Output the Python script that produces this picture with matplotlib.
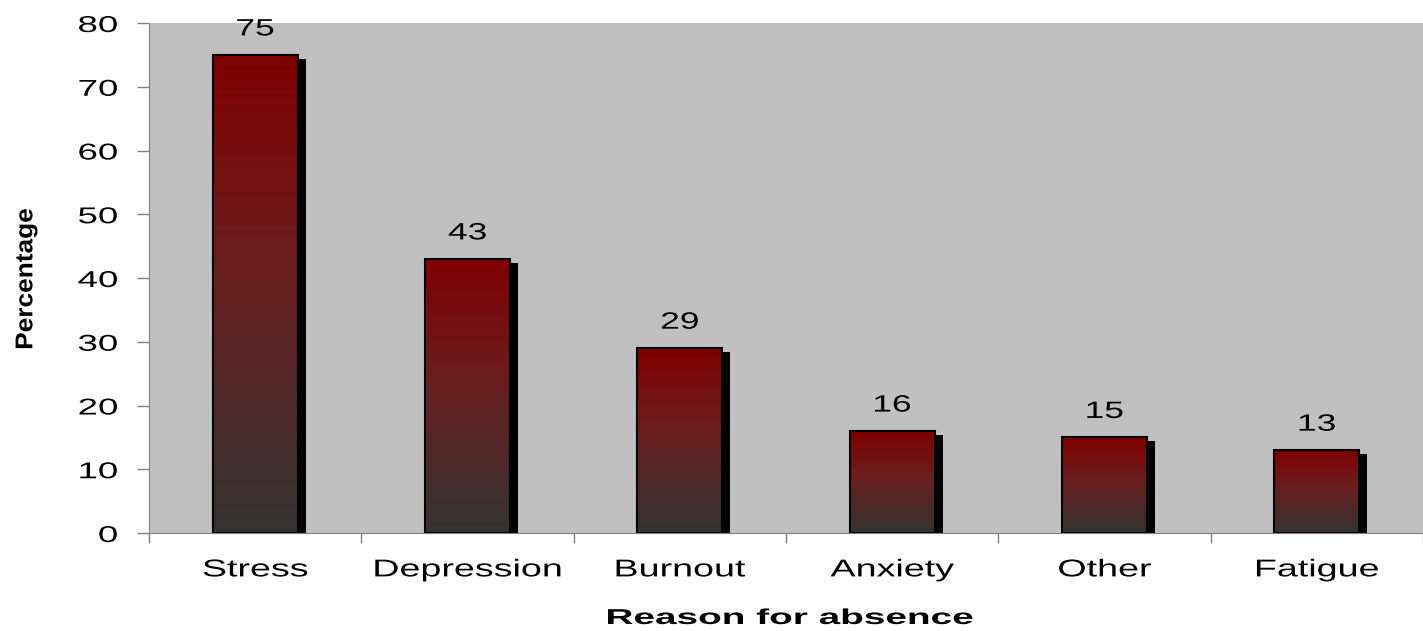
import numpy as np
import matplotlib
matplotlib.use("Agg")
import matplotlib.pyplot as plt
import matplotlib.transforms as mtransforms
from matplotlib.colors import LinearSegmentedColormap
from matplotlib.patheffects import AbstractPathEffect

# data
categories = ["Stress", "Depression", "Burnout", "Anxiety", "Other", "Fatigue"]
values = [75, 43, 29, 16, 15, 13]
y_ticks = [0, 10, 20, 30, 40, 50, 60, 70, 80]

plt.rcParams['font.family'] = ['Liberation Sans', 'DejaVu Sans']


class Stretch(AbstractPathEffect):
    """Scale the rendered text path about an anchor (the source image is stretched wide)."""
    def __init__(self, sx=1.0, sy=1.0, anchor='center'):
        super().__init__()
        self.sx, self.sy, self.anchor = sx, sy, anchor

    def draw_path(self, renderer, gc, tpath, affine, rgbFace=None):
        ext = tpath.transformed(affine).get_extents()
        if self.anchor == 'right':
            cx = ext.x1
        elif self.anchor == 'left':
            cx = ext.x0
        else:
            cx = (ext.x0 + ext.x1) / 2
        cy = (ext.y0 + ext.y1) / 2
        new = affine + mtransforms.Affine2D().translate(-cx, -cy).scale(self.sx, self.sy).translate(cx, cy)
        renderer.draw_path(gc, tpath, new, rgbFace)


fig = plt.figure(figsize=(14.23, 6.31), dpi=100)
ax = fig.add_axes([149 / 1423, 98 / 631, 1 - 149 / 1423, (533 - 23) / 631])
ax.set_facecolor('#c0c0c0')

x = np.arange(len(categories))
bar_w = 0.4

# gradient: dark red on top -> dark grey at the base
grad_cmap = LinearSegmentedColormap.from_list(
    "bar_grad", [(0.0, '#333333'), (0.55, '#6a1e1e'), (1.0, '#800000')])
grad = np.linspace(0, 1, 256).reshape(-1, 1)

# shadow offset (right / down)
shadow_tr = mtransforms.offset_copy(ax.transData, fig=fig, x=8, y=-4, units='dots')
ax.bar(x, values, width=bar_w, color='black', edgecolor='none',
       transform=shadow_tr, zorder=2)

bars = ax.bar(x, values, width=bar_w, color='none', edgecolor='black',
              linewidth=1.5, zorder=4)
for b in bars:
    x0, w, h = b.get_x(), b.get_width(), b.get_height()
    ax.imshow(grad, cmap=grad_cmap, origin='lower', aspect='auto',
              extent=[x0, x0 + w, 0, h], zorder=3, interpolation='bicubic')

for xi, v in zip(x, values):
    ax.annotate(str(v), (xi, v), xytext=(0, 14), textcoords='offset points',
                ha='center', va='baseline', fontsize=17, color='black',
                path_effects=[Stretch(sx=1.5)])

ax.set_xlim(-0.5, len(categories) - 0.5)
ax.set_ylim(0, 80)
ax.set_yticks(y_ticks)
ax.set_yticklabels([str(t) for t in y_ticks], fontsize=16.5)
ax.set_xticks(x)
ax.set_xticklabels(categories, fontsize=17.5)
ax.tick_params(axis='x', length=0, pad=19)
ax.set_xticks(np.arange(len(categories) + 1) - 0.5, minor=True)
ax.tick_params(axis='x', which='minor', length=7, color='#808080', width=1)
ax.tick_params(axis='y', length=9, color='#808080', width=1, pad=13.5)

for lbl in ax.get_yticklabels():
    lbl.set_path_effects([Stretch(sx=1.6, anchor='right')])
for lbl in ax.get_xticklabels():
    lbl.set_path_effects([Stretch(sx=1.55)])

for s in ['top', 'right']:
    ax.spines[s].set_visible(False)
ax.spines['left'].set_color('#808080')
ax.spines['bottom'].set_color('#808080')
ax.spines['left'].set_zorder(5)
ax.spines['bottom'].set_zorder(5)

fig.text(790 / 1423, 1 - 624 / 631, "Reason for absence", fontsize=15.5,
         fontweight='bold', ha='center', va='baseline',
         path_effects=[Stretch(sx=1.8)])
fig.text(26 / 1423, 1 - 279 / 631, "Percentage", rotation=90, fontsize=19.5,
         fontweight='bold', ha='center', va='center',
         path_effects=[Stretch(sx=0.9, sy=0.97)])

fig.savefig('out.png', dpi=100, facecolor='white')
